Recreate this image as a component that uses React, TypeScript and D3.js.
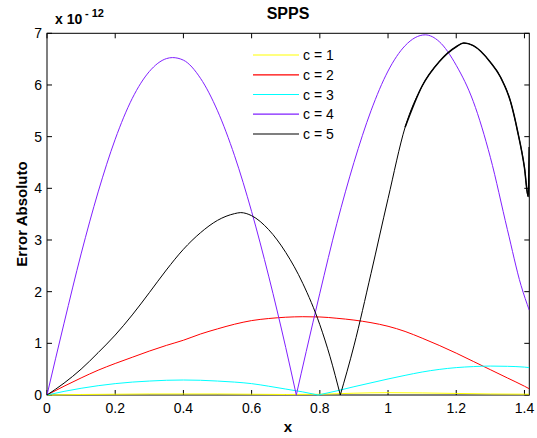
import React from 'react';
import * as d3 from 'd3';

const seriesNames = ['c = 1', 'c = 2', 'c = 3', 'c = 4', 'c = 5'];
const seriesColors = ['#ffff00', '#ff0000', '#00ffff', '#8020ff', '#000000'];

const xDomain = [0, 1.4142];
const yDomain = [0, 7];
const xTicks = [0, 0.2, 0.4, 0.6, 0.8, 1, 1.2, 1.4];
const xTickLabels = ['0', '0.2', '0.4', '0.6', '0.8', '1', '1.2', '1.4'];
const yTicks = [0, 1, 2, 3, 4, 5, 6, 7];
const yTickLabels = ['0', '1', '2', '3', '4', '5', '6', '7'];

type Pt = [number, number];

const c1: Pt[] = [
  [0, 0], [0.1, 0.01], [0.2, 0.015], [0.3, 0.02], [0.4, 0.02], [0.5, 0.02], [0.6, 0.015],
  [0.7, 0.01], [0.8, 0.015], [0.9, 0.035], [1.0, 0.045], [1.1, 0.04], [1.2, 0.03],
  [1.3, 0.02], [1.4142, 0.015],
];

const c2: Pt[] = [
  [0, 0], [0.05, 0.17], [0.1, 0.33], [0.15, 0.48], [0.2, 0.61], [0.25, 0.73], [0.3, 0.85],
  [0.35, 0.96], [0.4, 1.06], [0.45, 1.18], [0.5, 1.28], [0.55, 1.37], [0.6, 1.44],
  [0.65, 1.48], [0.7, 1.505], [0.75, 1.515], [0.8, 1.51], [0.85, 1.485], [0.9, 1.45],
  [0.95, 1.4], [1.0, 1.33], [1.05, 1.23], [1.1, 1.1], [1.15, 0.96], [1.2, 0.81],
  [1.25, 0.65], [1.3, 0.49], [1.35, 0.33], [1.4, 0.17], [1.4142, 0.12],
];

const c3: Pt[] = [
  [0, 0], [0.05, 0.07], [0.1, 0.13], [0.15, 0.18], [0.2, 0.22], [0.25, 0.25], [0.3, 0.27],
  [0.35, 0.285], [0.4, 0.29], [0.45, 0.285], [0.5, 0.27], [0.55, 0.25], [0.6, 0.22],
  [0.65, 0.17], [0.7, 0.115], [0.75, 0.06], [0.795, 0], [0.85, 0.08], [0.9, 0.16],
  [0.95, 0.235], [1.0, 0.31], [1.05, 0.38], [1.1, 0.445], [1.15, 0.495], [1.2, 0.53],
  [1.25, 0.55], [1.3, 0.56], [1.35, 0.555], [1.4, 0.54], [1.4142, 0.53],
];

const c4: Pt[] = [
  [0, 0], [0.025, 0.7], [0.05, 1.39], [0.1, 2.73], [0.15, 3.93], [0.2, 4.95], [0.25, 5.74],
  [0.3, 6.26], [0.35, 6.51], [0.368, 6.53], [0.4, 6.48], [0.45, 6.13], [0.5, 5.5],
  [0.55, 4.63], [0.6, 3.55], [0.65, 2.3], [0.7, 0.92], [0.731, 0], [0.76, 0.84],
  [0.8, 1.97], [0.85, 3.32], [0.9, 4.5], [0.95, 5.5], [1.0, 6.27], [1.05, 6.76],
  [1.109, 6.97], [1.15, 6.84], [1.2, 6.38], [1.25, 5.68], [1.3, 4.6], [1.35, 3.2],
  [1.39, 2.12], [1.4142, 1.64],
];

const c5: Pt[] = [
  [0, 0], [0.05, 0.23], [0.1, 0.5], [0.15, 0.82], [0.2, 1.16], [0.25, 1.55], [0.3, 1.98],
  [0.35, 2.42], [0.4, 2.82], [0.45, 3.14], [0.5, 3.38], [0.55, 3.51], [0.568, 3.53],
  [0.6, 3.47], [0.65, 3.2], [0.7, 2.76], [0.75, 2.16], [0.8, 1.36], [0.83, 0.74],
  [0.86, 0], [0.9, 0.95], [0.95, 2.35], [1.0, 3.8], [1.05, 5.18], [1.1, 5.98],
  [1.15, 6.45], [1.2, 6.74], [1.222, 6.81], [1.25, 6.76], [1.3, 6.44], [1.33, 6.15],
  [1.36, 5.66], [1.38, 5.1], [1.4, 4.4], [1.411, 3.84], [1.4142, 4.8],
];

const seriesData = [c1, c2, c3, c4, c5];

const W = 537;
const H = 438;
const M = { left: 47, right: 529.3, top: 33.3, bottom: 395 };
const FONT = "'Liberation Sans', Arial, Helvetica, sans-serif";

function splitAtZeros(pts: Pt[]): Pt[][] {
  const segs: Pt[][] = [];
  let cur: Pt[] = [];
  pts.forEach((p, i) => {
    cur.push(p);
    if (i > 0 && i < pts.length - 1 && p[1] === 0) {
      segs.push(cur);
      cur = [p];
    }
  });
  if (cur.length > 1) segs.push(cur);
  return segs;
}

export default function App() {
  const x = d3.scaleLinear().domain(xDomain).range([M.left, M.right]);
  const y = d3.scaleLinear().domain(yDomain).range([M.bottom, M.top]);
  const line = d3
    .line<Pt>()
    .x((d) => x(d[0]))
    .y((d) => y(d[1]))
    .curve(d3.curveMonotoneX);

  const tick = 5;
  const legendRows = [55, 74.8, 94.5, 114.2, 134];

  return (
    <svg
      width={W}
      height={H}
      style={{ position: 'absolute', left: 0, top: 0, background: '#fff' }}
      fontFamily={FONT}
    >
      <rect x={0} y={0} width={W} height={H} fill="#fff" />
      <defs>
        <clipPath id="plotClip">
          <rect x={M.left} y={M.top - 1} width={M.right - M.left} height={M.bottom - M.top + 2} />
        </clipPath>
      </defs>

      {/* axes box */}
      <rect
        x={M.left}
        y={M.top}
        width={M.right - M.left}
        height={M.bottom - M.top}
        fill="none"
        stroke="#000"
        strokeWidth={1}
      />
      {xTicks.map((t, i) => (
        <g key={'xt' + i}>
          <line x1={x(t)} x2={x(t)} y1={M.bottom} y2={M.bottom - tick} stroke="#000" />
          <line x1={x(t)} x2={x(t)} y1={M.top} y2={M.top + tick} stroke="#000" />
          <text x={x(t)} y={413} textAnchor="middle" fontSize={14} fill="#000">
            {xTickLabels[i]}
          </text>
        </g>
      ))}
      {yTicks.map((t, i) => (
        <g key={'yt' + i}>
          <line x1={M.left} x2={M.left + tick} y1={y(t)} y2={y(t)} stroke="#000" />
          <line x1={M.right} x2={M.right - tick} y1={y(t)} y2={y(t)} stroke="#000" />
          <text x={42} y={y(t) + 5} textAnchor="end" fontSize={14} fill="#000">
            {yTickLabels[i]}
          </text>
        </g>
      ))}

      {/* series */}
      <g clipPath="url(#plotClip)">
        {seriesData.map((pts, si) =>
          splitAtZeros(pts).map((seg, k) => (
            <path
              key={'s' + si + '-' + k}
              d={line(seg) || ''}
              fill="none"
              stroke={seriesColors[si]}
              strokeWidth={1}
            />
          ))
        )}
        <path
          d={line(c5.filter((p) => p[0] >= 1.05)) || ''}
          fill="none"
          stroke={seriesColors[4]}
          strokeWidth={1.5}
        />
      </g>

      {/* legend */}
      {seriesNames.map((name, i) => (
        <g key={'lg' + i}>
          <line
            x1={253}
            x2={299}
            y1={legendRows[i]}
            y2={legendRows[i]}
            stroke={seriesColors[i]}
            strokeWidth={1.2}
          />
          <text x={303} y={legendRows[i] + 5} fontSize={14} fill="#000">
            {name}
          </text>
        </g>
      ))}

      {/* titles */}
      <text x={288} y={19} textAnchor="middle" fontSize={16} fontWeight="bold" fill="#000">
        SPPS
      </text>
      <text x={55} y={24} fontSize={14} fontWeight="bold" fill="#000">
        x 10
      </text>
      <text x={85} y={16.5} fontSize={11} fontWeight="bold" fill="#000">
        - 12
      </text>
      <text x={288} y={432} textAnchor="middle" fontSize={15} fontWeight="bold" fill="#000">
        x
      </text>
      <text
        transform={`translate(26.5, 214) rotate(-90)`}
        textAnchor="middle"
        fontSize={15}
        fontWeight="bold"
        fill="#000"
      >
        Error Absoluto
      </text>
    </svg>
  );
}
